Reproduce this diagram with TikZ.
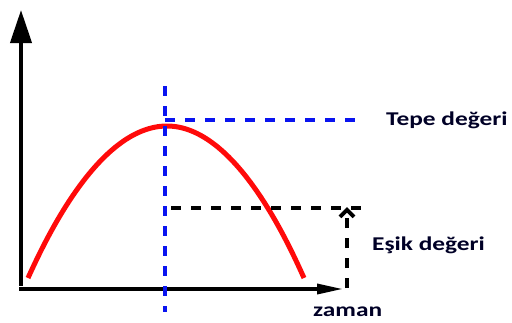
\documentclass[tikz,border=0pt]{standalone}
\usepackage{fontspec}
\usepackage{xcolor}
\usepackage{tikz}
\usetikzlibrary{arrows.meta,positioning}
\newfontfamily\lblfont[FakeStretch=1.3]{Carlito}
\definecolor{peakblue}{RGB}{10,20,240}
\definecolor{curvered}{RGB}{255,10,10}
\tikzset{
  axisline/.style={line width=4pt, black},
  lbl/.style={font=\lblfont\bfseries\fontsize{19.5}{22}\selectfont, text=black!85!blue, inner sep=0pt, anchor=west},
  peakdash/.style={line width=4.2pt, peakblue, dash pattern=on 10pt off 10pt},
  thrdash/.style={line width=4pt, black, dash pattern=on 10pt off 10pt}
}

\begin{document}
\begin{tikzpicture}[x=1pt,y=-1pt]
\useasboundingbox (0,0) rectangle (512,322);
\coordinate (o) at (21,289);
\coordinate (ytop) at (21,10);
\coordinate (xend) at (343,289);
\coordinate (c0) at (28,278);
\coordinate (apex) at (167,126);
\coordinate (c1) at (304,278);
\coordinate (vtop) at (165,86);
\coordinate (vbot) at (165,312);
\coordinate (hend) at (362,120);
\coordinate (tstart) at (171,208);
\coordinate (tend) at (368,208);
\coordinate (abot) at (347,288);
\coordinate (atop) at (347,207);
\node[lbl] (tepe) at (386,120) {Tepe değeri};
\node[lbl] (esik) at (372,245) {Eşik değeri};
\node[lbl] (zaman) at (313,312) {zaman};
% axes
\draw[axisline, -{Triangle[width=21pt,length=33pt]}] ([yshift=3pt]o) -- (ytop);
\draw[axisline, line width=3.4pt, -{Triangle[width=10pt,length=26pt]}] ([xshift=-2pt]o) -- (xend);
% curve
\draw[curvered, line width=5pt] (c0) parabola bend (apex) (c1);
% peak lines
\draw[peakdash] (vtop) -- (vbot);
\draw[peakdash] (165,120) -- (hend);
% threshold
\draw[thrdash] (tstart) -- (tend);
\draw[thrdash, -{Straight Barb[length=7pt,width=14pt]}] (abot) -- (atop);
\end{tikzpicture}
\end{document}
